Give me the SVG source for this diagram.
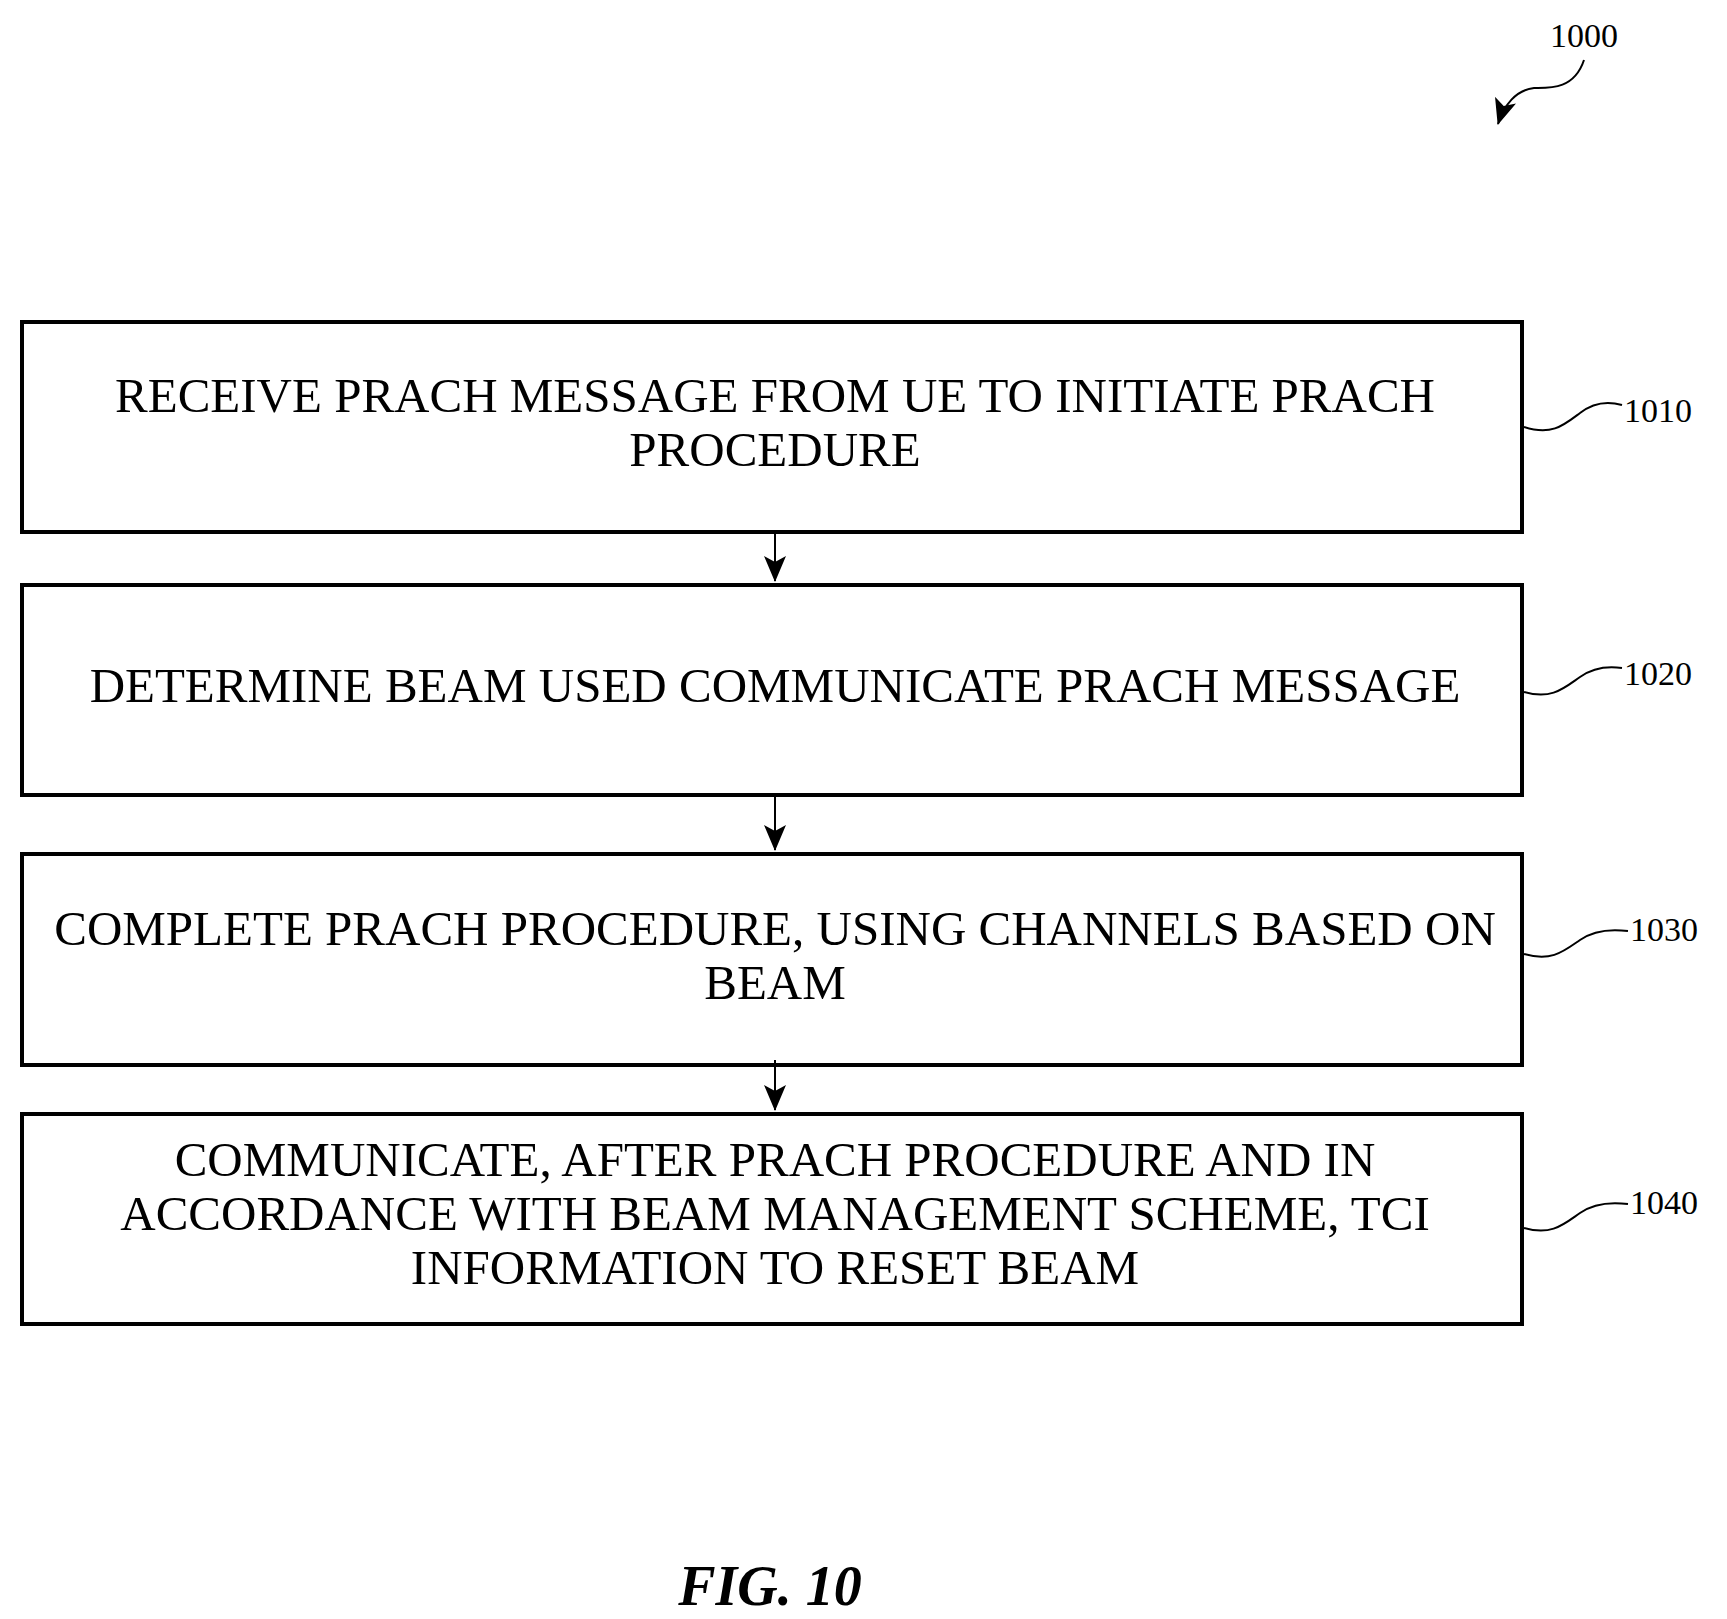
<svg xmlns="http://www.w3.org/2000/svg" width="1727" height="1619" viewBox="0 0 1727 1619">
<style>
.box{fill:#fff;stroke:#000;stroke-width:4}
.t{font-family:"Liberation Serif",serif;font-size:49px;text-anchor:middle;fill:#000}
.lbl{font-family:"Liberation Serif",serif;font-size:34px;fill:#000}
.ln{fill:none;stroke:#000;stroke-width:2}
</style>
<defs>
<marker id="ah2" markerWidth="26" markerHeight="22" refX="25" refY="11" orient="auto" markerUnits="userSpaceOnUse" viewBox="0 0 26 22"><path d="M0,0 L26,11 L0,22 L6,11 z" fill="#000"/></marker>
</defs>
<rect width="1727" height="1619" fill="#fff"/>
<g id="n1010"><rect class="box" x="22" y="322" width="1500" height="210"/>
<text class="t" x="775" y="412">RECEIVE PRACH MESSAGE FROM UE TO INITIATE PRACH</text>
<text class="t" x="775" y="466">PROCEDURE</text></g>
<g id="n1020"><rect class="box" x="22" y="585" width="1500" height="210"/>
<text class="t" x="775" y="702">DETERMINE BEAM USED COMMUNICATE PRACH MESSAGE</text></g>
<g id="n1030"><rect class="box" x="22" y="854" width="1500" height="211"/>
<text class="t" x="775" y="945">COMPLETE PRACH PROCEDURE, USING CHANNELS BASED ON</text>
<text class="t" x="775" y="999">BEAM</text></g>
<g id="n1040"><rect class="box" x="22" y="1114" width="1500" height="210"/>
<text class="t" x="775" y="1176">COMMUNICATE, AFTER PRACH PROCEDURE AND IN</text>
<text class="t" x="775" y="1230">ACCORDANCE WITH BEAM MANAGEMENT SCHEME, TCI</text>
<text class="t" x="775" y="1284">INFORMATION TO RESET BEAM</text></g>
<g id="connectors">
<line class="ln" x1="775" y1="534" x2="775" y2="581" stroke-width="3" marker-end="url(#ah2)"/>
<line class="ln" x1="775" y1="797" x2="775" y2="850" stroke-width="3" marker-end="url(#ah2)"/>
<line class="ln" x1="775" y1="1060" x2="775" y2="1110" stroke-width="3" marker-end="url(#ah2)"/>
<path class="ln" d="M1524,427 C1552,436 1564,425 1580,413 C1594,402 1608,401 1622,405"/>
<path class="ln" d="M1524,692 C1552,700 1564,688 1580,677 C1594,667 1608,666 1622,668"/>
<path class="ln" d="M1524,954 C1552,962 1564,951 1580,940 C1594,930 1612,929 1628,931"/>
<path class="ln" d="M1524,1228 C1552,1236 1564,1224 1580,1213 C1594,1203 1612,1202 1628,1204"/>
<path class="ln" d="M1584,60 C1574,90 1549,88 1534,88 C1516,90 1504,105 1498,124" marker-end="url(#ah2)"/>
</g>
<text class="lbl" x="1624" y="422">1010</text>
<text class="lbl" x="1624" y="685">1020</text>
<text class="lbl" x="1630" y="941">1030</text>
<text class="lbl" x="1630" y="1214">1040</text>
<text class="lbl" x="1550" y="47">1000</text>
<text x="770" y="1605" font-family="Liberation Serif,serif" font-size="56" font-weight="bold" font-style="italic" text-anchor="middle">FIG. 10</text>
</svg>
